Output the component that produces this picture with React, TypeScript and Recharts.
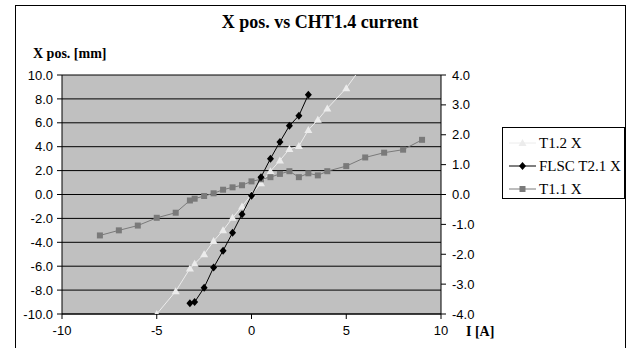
import { CartesianGrid, Scatter, ScatterChart, XAxis, YAxis } from 'recharts'

// X position vs CHT1.4 current — three scans, T1.1 X on the secondary axis.

const t12X = [-5, -4, -3.25, -3, -2.5, -2, -1.5, -1, -0.5, 0, 0.5, 1, 1.5, 2, 2.5, 3, 3.5, 4, 5, 6]
const t12Y = [-10.0, -8.1, -6.2, -5.8, -5.0, -3.9, -3.0, -1.95, -1.0, 0.0, 0.95, 1.95, 2.85, 3.8, 4.05, 5.4, 6.25, 7.2, 8.9, 11.1]

const flscX = [-3.25, -3, -2.5, -2, -1.5, -1, -0.5, 0, 0.5, 1, 1.5, 2, 2.5, 3]
const flscY = [-9.1, -9.0, -7.8, -6.1, -4.7, -3.2, -1.65, -0.1, 1.45, 3.0, 4.4, 5.75, 6.6, 8.35]

const t11X = [-8, -7, -6, -5, -4, -3.25, -3, -2.5, -2, -1.5, -1, -0.5, 0, 0.5, 1, 1.5, 2, 2.5, 3, 3.5, 4, 5, 6, 7, 8, 9]
const t11Y = [-1.37, -1.2, -1.04, -0.78, -0.61, -0.2, -0.14, -0.05, 0.04, 0.16, 0.24, 0.31, 0.44, 0.51, 0.58, 0.69, 0.78, 0.58, 0.71, 0.64, 0.78, 0.95, 1.24, 1.4, 1.5, 1.83]

const xTicks = [-10, -5, 0, 5, 10]
const leftTicks = [-10, -8, -6, -4, -2, 0, 2, 4, 6, 8, 10]
const rightTicks = [-4, -3, -2, -1, 0, 1, 2, 3, 4]

const toPoints = (xs: number[], ys: number[]) => xs.map((x, i) => ({ x, y: ys[i] }))

const T12_COLOR = '#ececec'
const FLSC_COLOR = '#000000'
const T11_COLOR = '#7a7a7a'

const Triangle = ({ cx, cy, fill }: any) => (
  <path d={`M${cx},${cy - 4} L${cx + 4},${cy + 3} L${cx - 4},${cy + 3} Z`} fill={fill} />
)
const Diamond = ({ cx, cy, fill }: any) => (
  <path d={`M${cx},${cy - 4} L${cx + 3.5},${cy} L${cx},${cy + 4} L${cx - 3.5},${cy} Z`} fill={fill} />
)
const Square = ({ cx, cy, fill }: any) => <rect x={cx - 3} y={cy - 3} width={6} height={6} fill={fill} />

const tickFont = { fontSize: 13, fill: '#000', fontFamily: 'Liberation Sans' }

const legendItems = [
  { name: 'T1.2 X', color: T12_COLOR, Marker: Triangle },
  { name: 'FLSC T2.1 X', color: FLSC_COLOR, Marker: Diamond },
  { name: 'T1.1 X', color: T11_COLOR, Marker: Square },
]

export default function App() {
  return (
    <div style={{ position: 'absolute', left: 0, top: 0, width: 628, height: 348, background: '#fff', overflow: 'hidden' }}>
      <div style={{ position: 'absolute', left: 15, top: 5, width: 609, height: 360, border: '1px solid #000' }} />

      <div
        style={{
          position: 'absolute', left: 0, width: 640, top: 12, textAlign: 'center',
          fontFamily: 'Liberation Serif', fontWeight: 'bold', fontSize: 18,
        }}
      >
        X pos. vs CHT1.4 current
      </div>
      <div style={{ position: 'absolute', left: 33, top: 46, fontFamily: 'Liberation Serif', fontWeight: 'bold', fontSize: 14 }}>
        X pos. [mm]
      </div>
      <div style={{ position: 'absolute', left: 466, top: 324, fontFamily: 'Liberation Serif', fontWeight: 'bold', fontSize: 14 }}>
        I [A]
      </div>

      <div style={{ position: 'absolute', left: 0, top: 0 }}>
        <ScatterChart width={628} height={348} margin={{ top: 75, right: 127, bottom: 5, left: 0 }}>
          <CartesianGrid yAxisId="left" vertical={false} stroke="#000" fill="#c0c0c0" fillOpacity={1} />
          <XAxis
            type="number"
            dataKey="x"
            domain={[-10, 10]}
            ticks={xTicks}
            allowDataOverflow
            height={29}
            tickSize={5}
            tickMargin={7}
            stroke="#000"
            tick={tickFont}
          />
          <YAxis
            yAxisId="left"
            type="number"
            dataKey="y"
            domain={[-10, 10]}
            ticks={leftTicks}
            allowDataOverflow
            width={62}
            tickSize={5}
            tickMargin={4}
            stroke="#000"
            tick={tickFont}
            tickFormatter={(v: number) => v.toFixed(1)}
          />
          <YAxis
            yAxisId="right"
            orientation="right"
            type="number"
            dataKey="y"
            domain={[-4, 4]}
            ticks={rightTicks}
            allowDataOverflow
            width={60}
            tickSize={5}
            tickMargin={6}
            stroke="#000"
            tick={tickFont}
            tickFormatter={(v: number) => v.toFixed(1)}
          />
          <Scatter
            yAxisId="left"
            name="T1.2 X"
            data={toPoints(t12X, t12Y)}
            fill={T12_COLOR}
            line={{ stroke: T12_COLOR, strokeWidth: 1 }}
            lineType="joint"
            shape={Triangle}
            isAnimationActive={false}
          />
          <Scatter
            yAxisId="right"
            name="T1.1 X"
            data={toPoints(t11X, t11Y)}
            fill={T11_COLOR}
            line={{ stroke: T11_COLOR, strokeWidth: 1 }}
            lineType="joint"
            shape={Square}
            isAnimationActive={false}
          />
          <Scatter
            yAxisId="left"
            name="FLSC T2.1 X"
            data={toPoints(flscX, flscY)}
            fill={FLSC_COLOR}
            line={{ stroke: FLSC_COLOR, strokeWidth: 1 }}
            lineType="joint"
            shape={Diamond}
            isAnimationActive={false}
          />
        </ScatterChart>
      </div>

      <div
        style={{
          position: 'absolute', left: 502, top: 127, width: 121, height: 70,
          border: '1px solid #000', background: '#fff',
        }}
      >
        {legendItems.map((it, i) => (
          <div key={it.name} style={{ position: 'absolute', left: 0, top: 4 + i * 23, height: 22, display: 'flex', alignItems: 'center' }}>
            <svg width={36} height={22}>
              <line x1={6} x2={33} y1={11} y2={11} stroke={it.color} strokeWidth={1} />
              <it.Marker cx={19.5} cy={11} fill={it.color} />
            </svg>
            <span style={{ fontFamily: 'Liberation Serif', fontSize: 15, whiteSpace: 'nowrap' }}>{it.name}</span>
          </div>
        ))}
      </div>
    </div>
  )
}
